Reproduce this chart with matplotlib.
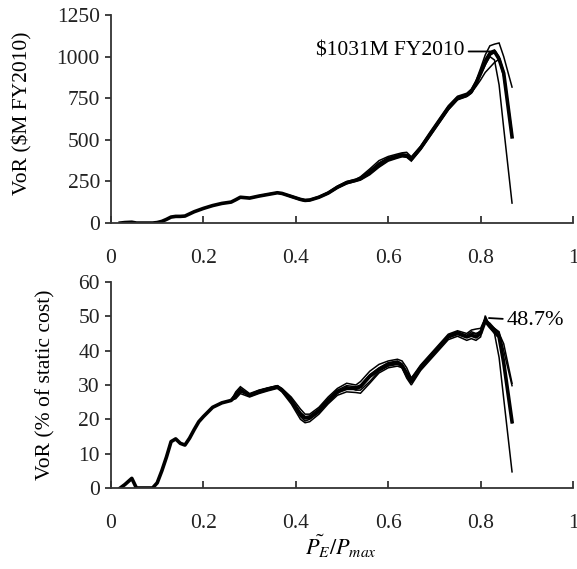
import matplotlib
matplotlib.use('Agg')
import matplotlib.pyplot as plt

plt.rcParams['font.family'] = ['Liberation Serif', 'DejaVu Serif']
plt.rcParams['mathtext.fontset'] = 'stix'

# shared start of the curves (all runs overlap here)
x_head = [0.02, 0.03, 0.045, 0.055, 0.09, 0.10, 0.11, 0.12, 0.13, 0.14, 0.15, 0.16,
          0.17, 0.18, 0.19, 0.20, 0.22, 0.24, 0.26]
top_head = [0, 3, 5, 0, 0, 3, 10, 22, 36, 40, 40, 42, 55, 68, 78, 88, 105, 118, 126]
bot_head = [0, 1, 2.8, 0, 0, 1.5, 5, 9, 13.5, 14.3, 13, 12.5, 14.5, 17, 19.3, 20.8,
            23.5, 24.8, 25.5]

x_tail = [0.27, 0.28, 0.30, 0.32, 0.34, 0.36, 0.37, 0.39, 0.41, 0.42, 0.43, 0.45, 0.47,
          0.49, 0.51, 0.53, 0.54, 0.56, 0.58, 0.60, 0.62, 0.63, 0.64, 0.65, 0.67, 0.69,
          0.71, 0.73, 0.75, 0.77, 0.78, 0.79, 0.80, 0.81, 0.82, 0.83, 0.84, 0.85, 0.868]

# VoR in $M FY2010
top_a = [140, 155, 150, 162, 172, 182, 178, 160, 142, 136, 138, 155, 180, 215, 242, 258, 268,
         305, 350, 385, 400, 408, 405, 385, 450, 530, 610, 690, 750, 768, 790, 840, 900, 965,
         1015, 1031, 985, 900, 518]
top_b = [142, 157, 152, 164, 175, 184, 180, 164, 146, 140, 142, 160, 186, 222, 250, 262, 278,
         325, 375, 400, 415, 422, 425, 398, 462, 545, 625, 705, 762, 780, 805, 855, 930, 1010,
         1065, 1075, 1082, 1000, 817]
top_c = [138, 153, 148, 160, 170, 180, 176, 158, 140, 133, 135, 152, 176, 210, 236, 250, 258,
         290, 335, 372, 390, 398, 395, 372, 440, 520, 600, 680, 740, 760, 780, 830, 890, 950,
         1000, 980, 830, 570, 120]
top_d = [139, 154, 151, 163, 173, 183, 177, 156, 138, 132, 137, 157, 183, 218, 245, 256, 262,
         295, 340, 378, 396, 405, 402, 380, 446, 526, 606, 686, 746, 764, 785, 820, 860, 905,
         935, 965, 985, 880, 530]
top_e = [141, 156, 149, 161, 171, 181, 179, 162, 144, 138, 140, 154, 178, 212, 240, 255, 272,
         315, 362, 392, 408, 415, 412, 390, 455, 535, 615, 695, 755, 772, 795, 850, 915, 985,
         1030, 1040, 1000, 910, 540]

# VoR in % of static cost
bot_a = [27, 28.5, 27, 28, 28.8, 29.5, 28.5, 25.5, 21.5, 20.4, 20.5, 22.5, 25.5, 28, 29, 29,
         29.5, 32.5, 34.5, 36, 36.5, 35.5, 33, 31, 35, 38, 41, 44, 45, 44, 44.5, 44, 45, 48.7,
         47, 45.5, 44, 36.5, 19.3]
bot_b = [28, 29.5, 27.5, 28.5, 29.2, 29.8, 29, 26.5, 23, 21.5, 21.5, 23.5, 26.5, 29, 30.5, 30,
         31, 34, 36, 37, 37.5, 37, 35, 32, 35.8, 38.8, 41.8, 44.8, 45.8, 45, 46, 46.3, 46.5,
         49.5, 47.5, 46.5, 45, 42, 30.5]
bot_c = [26, 27.5, 26.5, 27.5, 28.3, 29, 28, 24.5, 20, 19, 19.3, 21.5, 24.5, 27, 28, 27.8,
         27.6, 30.5, 33.5, 35, 35.5, 35, 32, 30, 34.2, 37.2, 40.2, 43.2, 44.2, 43, 43.5, 43, 44,
         50.2, 47, 45, 38, 26, 4.7]
bot_d = [27.5, 29, 26.8, 28.2, 29, 29.7, 28.8, 25, 20.8, 19.5, 20, 22, 25, 27.5, 29.5, 28.5,
         28.5, 31, 34, 35.5, 36, 35.8, 33.5, 31.5, 35.5, 38.5, 41.5, 44.5, 45.5, 44.5, 45.5, 45,
         45.5, 48.3, 47.5, 46, 44.5, 37, 19]
bot_e = [26.5, 28, 27.2, 28.4, 29.1, 29.6, 28.6, 26, 22, 20.8, 21, 23, 26, 28.5, 29.8, 29.5,
         30, 33, 35, 36.5, 37, 36.2, 34, 32, 35.3, 38.3, 41.3, 44.3, 45.3, 44, 45, 44.8, 45.8,
         49, 48, 46.5, 45.5, 40, 29.8]

x_all = x_head + x_tail
top_series = [top_b, top_c, top_d, top_e]
bot_series = [bot_b, bot_c, bot_d, bot_e]

top_yticks = [0, 250, 500, 750, 1000, 1250]
bot_yticks = [0, 10, 20, 30, 40, 50, 60]
xticks = [0, 0.2, 0.4, 0.6, 0.8, 1]
xticklabels = ['0', '0.2', '0.4', '0.6', '0.8', '1']

fig = plt.figure(figsize=(5.77, 5.69), dpi=100)
ax1 = fig.add_axes([0.1924, 0.608, 0.8007, 0.3656])
ax2 = fig.add_axes([0.1924, 0.1424, 0.8007, 0.362])

spine_col = '#333333'
for ax in (ax1, ax2):
    ax.spines['top'].set_visible(False)
    ax.spines['right'].set_visible(False)
    for s in ('left', 'bottom'):
        ax.spines[s].set_color(spine_col)
        ax.spines[s].set_linewidth(1.3)
    ax.set_xlim(0, 1)
    ax.set_xticks(xticks)
    ax.set_xticklabels(xticklabels)
    ax.tick_params(axis='x', direction='in', length=5, width=1.3, pad=19,
                   labelsize=15.5, color=spine_col, labelcolor='#222222')
    ax.tick_params(axis='y', direction='out', length=4, width=1.3, pad=4,
                   labelsize=15.5, color=spine_col, labelcolor='#222222')

# top panel
for ys in top_series:
    ax1.plot(x_all, top_head + ys, color='black', lw=1.1, solid_joinstyle='miter')
ax1.plot(x_all, top_head + top_a, color='black', lw=2.6)
ax1.set_ylim(0, 1250)
ax1.set_yticks(top_yticks)
ax1.set_ylabel('VoR ($M FY2010)', fontsize=15.5)
ax1.yaxis.set_label_coords(-0.171, 0.53)
ax1.annotate(r'\$1031M FY2010', xy=(0.82, 1031), xytext=(0.765, 1031),
             ha='right', va='center', fontsize=15.5,
             arrowprops=dict(arrowstyle='-', lw=1.3, color='black', shrinkA=1, shrinkB=0))

# bottom panel
for ys in bot_series:
    ax2.plot(x_all, bot_head + ys, color='black', lw=1.1, solid_joinstyle='miter')
ax2.plot(x_all, bot_head + bot_a, color='black', lw=2.6)
ax2.set_ylim(0, 60)
ax2.set_yticks(bot_yticks)
ax2.set_ylabel('VoR (% of static cost)', fontsize=15.5)
ax2.yaxis.set_label_coords(-0.12, 0.5)
ax2.annotate('48.7%', xy=(0.818, 49.5), xytext=(0.857, 48.7),
             ha='left', va='center', fontsize=16,
             arrowprops=dict(arrowstyle='-', lw=1.3, color='black', shrinkA=1, shrinkB=0))
ax2.set_xlabel(r'$\tilde{P_E}/P_{max}$', fontsize=16)
ax2.xaxis.set_label_coords(0.497, -0.215)

fig.savefig('out.png', dpi=100)
